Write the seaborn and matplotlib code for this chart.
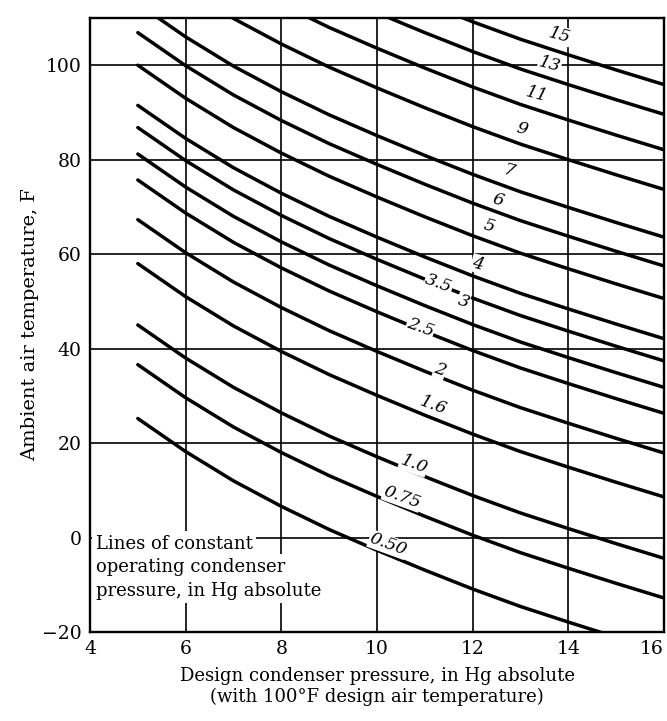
import matplotlib
matplotlib.use("Agg")
import matplotlib.pyplot as plt
import seaborn as sns
import pandas as pd

# design condenser pressure (in Hg abs) at which each curve is read
design_pressure = [5, 6, 7, 8, 9, 10, 11, 12, 13, 14, 15, 16]

# ambient air temperature (F)
curves = {
    "0.50": [25.2, 18.2, 12.0, 6.6, 1.7, -2.7, -6.9, -10.9, -14.6, -17.9, -21.1, -24.2],
    "0.75": [36.6, 29.6, 23.4, 18.0, 13.1, 8.7, 4.5, 0.5, -3.2, -6.5, -9.7, -12.8],
    "1.0": [45.0, 38.0, 31.8, 26.4, 21.5, 17.1, 12.9, 8.9, 5.2, 1.9, -1.3, -4.4],
    "1.6": [58.0, 51.0, 44.8, 39.4, 34.5, 30.1, 25.9, 21.9, 18.2, 14.9, 11.7, 8.6],
    "2": [67.3, 60.3, 54.1, 48.7, 43.8, 39.4, 35.2, 31.2, 27.5, 24.2, 21.0, 17.9],
    "2.5": [75.7, 68.7, 62.5, 57.1, 52.2, 47.8, 43.6, 39.6, 35.9, 32.6, 29.4, 26.3],
    "3": [81.2, 74.2, 68.0, 62.6, 57.7, 53.3, 49.1, 45.1, 41.4, 38.1, 34.9, 31.8],
    "3.5": [86.8, 79.8, 73.6, 68.2, 63.3, 58.9, 54.7, 50.7, 47.0, 43.7, 40.5, 37.4],
    "4": [91.5, 84.5, 78.3, 72.9, 68.0, 63.6, 59.4, 55.4, 51.7, 48.4, 45.2, 42.1],
    "5": [100.0, 93.0, 86.8, 81.4, 76.5, 72.1, 67.9, 63.9, 60.2, 56.9, 53.7, 50.6],
    "6": [106.9, 99.9, 93.7, 88.3, 83.4, 79.0, 74.8, 70.8, 67.1, 63.8, 60.6, 57.5],
    "7": [113.0, 106.0, 99.8, 94.4, 89.5, 85.1, 80.9, 76.9, 73.2, 69.9, 66.7, 63.6],
    "9": [123.1, 116.1, 109.9, 104.5, 99.6, 95.2, 91.0, 87.0, 83.3, 80.0, 76.8, 73.7],
    "11": [131.5, 124.5, 118.3, 112.9, 108.0, 103.6, 99.4, 95.4, 91.7, 88.4, 85.2, 82.1],
    "13": [139.0, 132.0, 125.8, 120.4, 115.5, 111.1, 106.9, 102.9, 99.2, 95.9, 92.7, 89.6],
    "15": [145.3, 138.3, 132.1, 126.7, 121.8, 117.4, 113.2, 109.2, 105.5, 102.2, 99.0, 95.9],
}

# curve label positions (design pressure, ambient temperature)
label_x = {"0.50": 10.23, "0.75": 10.53, "1.0": 10.77, "1.6": 11.18, "2": 11.32,
           "2.5": 10.91, "3": 11.8, "3.5": 11.29, "4": 12.1, "5": 12.35,
           "6": 12.53, "7": 12.77, "9": 13.02, "11": 13.33, "13": 13.61, "15": 13.82}
label_y = {"0.50": -1.5, "0.75": 8.5, "1.0": 15.5, "1.6": 28.0, "2": 35.5,
           "2.5": 44.5, "3": 50.0, "3.5": 53.8, "4": 58.0, "5": 66.0,
           "6": 71.5, "7": 77.5, "9": 86.5, "11": 93.8, "13": 100.2, "15": 106.3}

note_lines = ["Lines of constant", "operating condenser", "pressure, in Hg absolute"]
note_y = [-1.3, -6.2, -11.3]

x_ticks = [4, 6, 8, 10, 12, 14, 16]
y_ticks = [-20, 0, 20, 40, 60, 80, 100]

rows = []
for name, temps in curves.items():
    for p, t in zip(design_pressure, temps):
        rows.append({"curve": name, "design": p, "ambient": t})
df = pd.DataFrame(rows)

sns.set_theme(style="white")
plt.rcParams["font.family"] = ["DejaVu Serif"]
plt.rcParams["axes.unicode_minus"] = True
plt.rcParams["text.color"] = "black"
plt.rcParams["axes.labelcolor"] = "black"

fig = plt.figure(figsize=(6.67, 7.21), dpi=100)
ax = fig.add_axes([90 / 667, 1 - 632 / 721, (664 - 90) / 667, (632 - 18) / 721])

sns.lineplot(data=df, x="design", y="ambient", units="curve", estimator=None,
             color="black", linewidth=2.5, ax=ax, legend=False, zorder=3)

ax.set_xlim(4, 16)
ax.set_ylim(-20, 110)
ax.set_xticks(x_ticks)
ax.set_yticks(y_ticks)
ax.set_xticklabels([str(v) for v in x_ticks])
ax.set_yticklabels([str(v).replace("-", "\u2212") for v in y_ticks])
ax.get_xticklabels()[-1].set_horizontalalignment("right")
ax.grid(True, color="black", linewidth=1.2)
ax.set_axisbelow(True)
for s in ax.spines.values():
    s.set_color("black")
    s.set_linewidth(1.7)
ax.tick_params(axis="both", length=0, pad=6, labelsize=13.5, colors="black")

ax.set_xlabel("Design condenser pressure, in Hg absolute\n(with 100\u00b0F design air temperature)",
              fontsize=13, labelpad=6, linespacing=1.2, color="black")
ax.set_ylabel("Ambient air temperature, F", fontsize=14, labelpad=2, color="black")

for name in curves:
    xl = label_x[name]
    rot = -20 if xl < 12 else -15
    ax.text(xl, label_y[name], name, fontsize=12.5, fontstyle="italic",
            ha="center", va="center", rotation=rot, zorder=5, color="black",
            bbox=dict(facecolor="white", edgecolor="none", pad=0.5))

for line, yy in zip(note_lines, note_y):
    ax.text(4.12, yy, line, fontsize=13, ha="left", va="center", zorder=5,
            color="black", bbox=dict(facecolor="white", edgecolor="none", pad=2.5))

fig.savefig("out.png", dpi=100)
